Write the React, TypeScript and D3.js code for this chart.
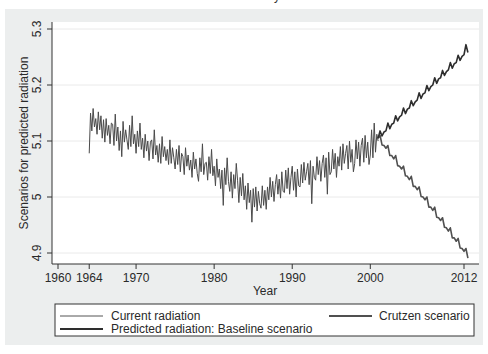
import React from 'react';
import * as d3 from 'd3';

const xTicks = [1960, 1964, 1970, 1980, 1990, 2000, 2012];
const yTicks = [4.9, 5, 5.1, 5.2, 5.3];

const currentStartYear = 1964;
const currentPerYear = 6;
const currentRadiation = [
  5.078, 5.150, 5.118, 5.158, 5.125, 5.140,
  5.112, 5.152, 5.120, 5.145, 5.105, 5.138,
  5.098, 5.140, 5.110, 5.128, 5.095, 5.132,
  5.130, 5.092, 5.148, 5.100, 5.125, 5.083,
  5.118, 5.072, 5.135, 5.098, 5.120, 5.102,
  5.085, 5.128, 5.090, 5.145, 5.095, 5.112,
  5.078, 5.118, 5.090, 5.132, 5.085, 5.105,
  5.070, 5.112, 5.082, 5.100, 5.065, 5.098,
  5.102, 5.068, 5.120, 5.075, 5.092, 5.062,
  5.095, 5.060, 5.108, 5.072, 5.090, 5.065,
  5.085, 5.058, 5.102, 5.060, 5.088, 5.070,
  5.050, 5.085, 5.058, 5.092, 5.045, 5.078,
  5.072, 5.040, 5.088, 5.055, 5.075, 5.048,
  5.066, 5.035, 5.080, 5.050, 5.068, 5.042,
  5.028, 5.070, 5.045, 5.095, 5.040, 5.060,
  5.062, 5.030, 5.072, 5.042, 5.085, 5.038,
  5.055, 5.020, 5.068, 5.035, 5.050, 5.015,
  5.048, 4.985, 5.052, 5.022, 5.070, 5.028,
  5.010, 5.045, 4.998, 5.040, 5.015, 5.060,
  5.030, 4.990, 5.035, 5.002, 5.042, 4.995,
  5.020, 4.978, 5.025, 4.990, 5.012, 4.955,
  5.015, 4.982, 5.018, 4.975, 5.010, 4.988,
  4.980, 5.020, 4.985, 5.012, 4.978, 5.018,
  4.995, 5.035, 5.000, 5.028, 4.992, 5.022,
  5.040, 5.005, 5.032, 4.998, 5.045, 5.010,
  5.008, 5.048, 5.015, 5.052, 5.005, 5.035,
  5.055, 5.012, 5.045, 5.000, 5.050, 5.020,
  5.018, 5.058, 5.025, 5.062, 5.030, 5.045,
  5.060, 5.022, 5.065, 4.988, 5.055, 5.035,
  5.030, 5.072, 5.040, 5.065, 5.028, 5.060,
  5.075, 5.035, 5.070, 5.005, 5.080, 5.040,
  5.045, 5.085, 5.050, 5.078, 5.035, 5.072,
  5.055, 5.090, 5.048, 5.095, 5.060, 5.078,
  5.092, 5.050, 5.100, 5.062, 5.085, 5.045,
  5.060, 5.102, 5.068, 5.098, 5.055, 5.092,
  5.105, 5.062, 5.110, 5.070, 5.098, 5.058,
  5.075, 5.120, 5.070, 5.132, 5.080, 5.112,
  5.100,
];

const scenarioStartYear = 2001;
const scenarioPerYear = 4;
const baselineScenario = [
  5.105, 5.118, 5.109, 5.116,
  5.118, 5.132, 5.122, 5.130,
  5.132, 5.145, 5.136, 5.143,
  5.146, 5.159, 5.149, 5.157,
  5.159, 5.172, 5.163, 5.170,
  5.173, 5.186, 5.176, 5.184,
  5.186, 5.199, 5.190, 5.197,
  5.200, 5.213, 5.203, 5.211,
  5.213, 5.226, 5.217, 5.224,
  5.227, 5.240, 5.230, 5.238,
  5.240, 5.253, 5.244, 5.251,
  5.254, 5.272, 5.258,
];
const crutzenScenario = [
  5.105, 5.110, 5.093, 5.092,
  5.087, 5.092, 5.074, 5.074,
  5.068, 5.074, 5.056, 5.055,
  5.050, 5.055, 5.038, 5.037,
  5.031, 5.037, 5.019, 5.019,
  5.013, 5.018, 5.001, 5.000,
  4.995, 5.000, 4.982, 4.982,
  4.976, 4.982, 4.964, 4.963,
  4.958, 4.963, 4.946, 4.945,
  4.939, 4.945, 4.927, 4.927,
  4.921, 4.926, 4.909, 4.908,
  4.903, 4.908, 4.891,
];

const legendLabels = ['Current radiation', 'Crutzen scenario', 'Predicted radiation: Baseline scenario'];

const FONT = '"Liberation Sans", Arial, Helvetica, sans-serif';

export default function App() {
  const W = 488, H = 354;
  const plotLeft = 52, plotRight = 479, plotTop = 22, plotBottom = 264;
  const x = d3.scaleLinear().domain([1960, 2012]).range([58, 464]);
  const y = d3.scaleLinear().domain([4.9, 5.3]).range([253, 29]);

  const toPts = (vals: number[], start: number, per: number) =>
    vals.map((v, i) => [start + i / per, v] as [number, number]);

  const line = d3.line<[number, number]>().x(d => x(d[0])).y(d => y(d[1]));

  const cur = line(toPts(currentRadiation, currentStartYear, currentPerYear)) || '';
  const base = line(toPts(baselineScenario, scenarioStartYear, scenarioPerYear)) || '';
  const crz = line(toPts(crutzenScenario, scenarioStartYear, scenarioPerYear)) || '';

  const fmt = (v: number) => (Math.round(v * 10) / 10).toString();
  const textColor = '#2a2a2a';
  const fs = 12;

  return (
    <svg width={W} height={H} style={{ position: 'absolute', left: 0, top: 0 }} fontFamily={FONT}>
      <rect x={0} y={0} width={W} height={H} fill="#ffffff" />
      <text x={274} y={-0.5} fontSize={12} fill="#333">y</text>
      <rect x={5} y={9} width={478} height={336} fill="#eceeee" />
      <rect x={plotLeft} y={plotTop} width={plotRight - plotLeft} height={plotBottom - plotTop} fill="#ffffff" />
      {yTicks.map(t => (
        <line key={'g' + t} x1={plotLeft} x2={plotRight} y1={y(t)} y2={y(t)} stroke="#eaeaea" strokeWidth={1} />
      ))}
      <path d={cur} fill="none" stroke="#4a4a4a" strokeWidth={1} strokeLinejoin="round" />
      <path d={crz} fill="none" stroke="#505050" strokeWidth={1.6} strokeLinejoin="round" />
      <path d={base} fill="none" stroke="#2e2e2e" strokeWidth={1.6} strokeLinejoin="round" />
      <line x1={plotLeft} x2={plotLeft} y1={plotTop} y2={plotBottom} stroke="#333" strokeWidth={1} />
      <line x1={plotLeft} x2={plotRight} y1={plotBottom} y2={plotBottom} stroke="#333" strokeWidth={1} />
      {yTicks.map(t => (
        <g key={'y' + t}>
          <line x1={plotLeft - 5} x2={plotLeft} y1={y(t)} y2={y(t)} stroke="#333" />
          <text transform={`translate(${plotLeft - 11},${y(t)}) rotate(-90)`} textAnchor="middle" fontSize={fs} fill={textColor}>
            {fmt(t)}
          </text>
        </g>
      ))}
      {xTicks.map(t => (
        <g key={'x' + t}>
          <line x1={x(t)} x2={x(t)} y1={plotBottom} y2={plotBottom + 5} stroke="#333" />
          <text x={x(t)} y={plotBottom + 18} textAnchor="middle" fontSize={fs} fill={textColor}>{t}</text>
        </g>
      ))}
      <text x={265} y={295} textAnchor="middle" fontSize={fs} fill={textColor}>Year</text>
      <text transform={`translate(28,${(plotTop + plotBottom) / 2}) rotate(-90)`} textAnchor="middle" fontSize={fs} fill={textColor}>
        Scenarios for predicted radiation
      </text>
      <rect x={55} y={304} width={419} height={32} fill="#ffffff" stroke="#333" strokeWidth={1} />
      <line x1={60} x2={103} y1={316} y2={316} stroke="#555" strokeWidth={1} />
      <text x={111} y={320} fontSize={fs} fill={textColor}>{legendLabels[0]}</text>
      <line x1={329} x2={372} y1={316} y2={316} stroke="#505050" strokeWidth={1.8} />
      <text x={379} y={320} fontSize={fs} fill={textColor}>{legendLabels[1]}</text>
      <line x1={60} x2={103} y1={329} y2={329} stroke="#2e2e2e" strokeWidth={1.8} />
      <text x={111} y={333} fontSize={fs} fill={textColor}>{legendLabels[2]}</text>
    </svg>
  );
}
